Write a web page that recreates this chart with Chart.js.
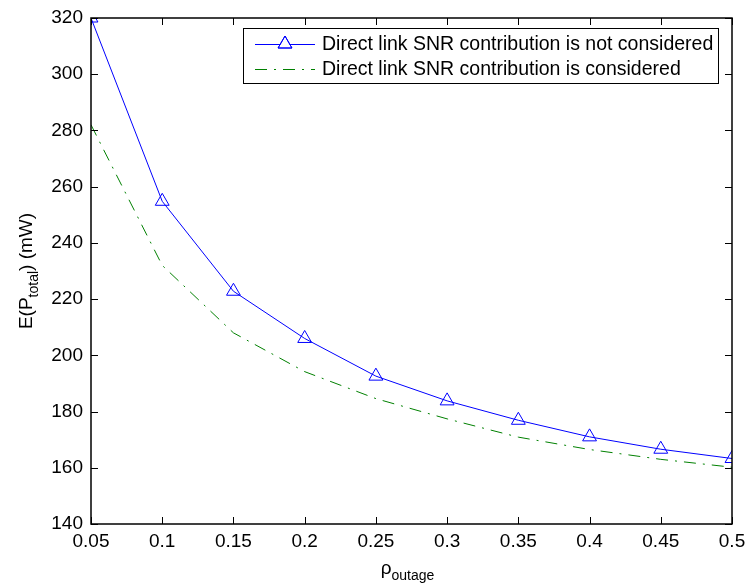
<!DOCTYPE html>
<html>
<head>
<meta charset="utf-8">
<script src="https://cdn.jsdelivr.net/npm/chart.js@4.4.1/dist/chart.umd.min.js"></script>
<style>
  html, body { margin: 0; padding: 0; background: #fff; }
  #wrap { width: 747px; height: 583px; }
</style>
</head>
<body>
<div id="wrap"><canvas id="powerChart" width="747" height="583"></canvas></div>
<script>
// values
const outageProb = [0.05, 0.1, 0.15, 0.2, 0.25, 0.3, 0.35, 0.4, 0.45, 0.5];
const powerNoDirect = [320, 254.8, 222.8, 206, 192.6, 183.8, 176.9, 171, 166.6, 163.3];
const powerDirect = [282, 232, 208, 194.2, 184.6, 177.4, 170.9, 166.5, 163, 160.2];
const xTicks = [0.05, 0.1, 0.15, 0.2, 0.25, 0.3, 0.35, 0.4, 0.45, 0.5];
const yTicks = [140, 160, 180, 200, 220, 240, 260, 280, 300, 320];

const FONT = 'Arial, "Liberation Sans", sans-serif';

function toPoints(xs, ys) {
    return xs.map((x, i) => ({ x: x, y: ys[i] }));
}

// MATLAB-style box with inward ticks on all four sides
const boxPlugin = {
    id: 'matlabBox',
    afterDraw(chart) {
        const ctx = chart.ctx;
        const a = chart.chartArea;
        const xs = chart.scales.x, ys = chart.scales.y;
        const L = Math.round(a.left), R = Math.round(a.right);
        const T = Math.round(a.top), B = Math.round(a.bottom);
        const tick = 7;
        ctx.save();
        ctx.strokeStyle = '#000';
        ctx.lineWidth = 1.5;
        ctx.strokeRect(L, T, R - L, B - T);
        ctx.lineWidth = 1;
        ctx.beginPath();
        xTicks.forEach(v => {
            const px = Math.round(xs.getPixelForValue(v)) + 0.5;
            ctx.moveTo(px, B); ctx.lineTo(px, B - tick);
            ctx.moveTo(px, T); ctx.lineTo(px, T + tick);
        });
        yTicks.forEach(v => {
            const py = Math.round(ys.getPixelForValue(v)) + 0.5;
            ctx.moveTo(L, py); ctx.lineTo(L + tick, py);
            ctx.moveTo(R, py); ctx.lineTo(R - tick, py);
        });
        ctx.stroke();

        // axis titles with subscripts
        ctx.fillStyle = '#000';
        ctx.textBaseline = 'alphabetic';
        const big = '19px ' + FONT, small = '14px ' + FONT;

        // x title: rho_outage
        ctx.font = big;
        const w1 = ctx.measureText('\u03C1').width;
        ctx.font = small;
        const w2 = ctx.measureText('outage').width;
        let x0 = (L + R) / 2 - 4 - (w1 + w2) / 2;
        const by = 574;
        ctx.font = big;
        ctx.fillText('\u03C1', x0, by);
        ctx.font = small;
        ctx.fillText('outage', x0 + w1, by + 6);

        // y title: E(P_total) (mW)
        const parts = [['E(P', big, 0], ['total', small, 6], [') (mW)', big, 0]];
        let total = 0;
        parts.forEach(p => { ctx.font = p[1]; total += ctx.measureText(p[0]).width; });
        ctx.translate(32, (T + B) / 2);
        ctx.rotate(-Math.PI / 2);
        let cx = -total / 2;
        parts.forEach(p => {
            ctx.font = p[1];
            ctx.fillText(p[0], cx, p[2]);
            cx += ctx.measureText(p[0]).width;
        });
        ctx.restore();

        // legend
        drawLegend(chart);
    }
};

function drawLegend(chart) {
    const ctx = chart.ctx;
    const bx = 243, byTop = 28, bw = 475, bh = 55;
    ctx.save();
    ctx.fillStyle = '#fff';
    ctx.fillRect(bx, byTop, bw, bh);
    ctx.strokeStyle = '#000';
    ctx.lineWidth = 1;
    ctx.strokeRect(bx + 0.5, byTop + 0.5, bw, bh);
    const rows = [44, 69];
    chart.data.datasets.forEach((ds, i) => {
        const y = rows[i] + 0.5;
        ctx.strokeStyle = ds.borderColor;
        ctx.lineWidth = 1;
        ctx.setLineDash(ds.borderDash || []);
        ctx.beginPath();
        ctx.moveTo(255, y);
        ctx.lineTo(315, y);
        ctx.stroke();
        ctx.setLineDash([]);
        if (ds.pointRadius > 0) {
            Chart.helpers.drawPoint(ctx, {
                pointStyle: ds.pointStyle,
                radius: ds.pointRadius,
                borderWidth: 1
            }, 285, rows[i]);
            ctx.stroke();
        }
        ctx.fillStyle = '#000';
        ctx.font = '19.5px ' + FONT;
        ctx.textBaseline = 'middle';
        ctx.fillText(ds.label, 322, rows[i] + 1);
    });
    ctx.restore();
}

const config = {
    type: 'line',
    data: {
        datasets: [
            {
                label: 'Direct link SNR contribution is not considered',
                data: toPoints(outageProb, powerNoDirect),
                borderColor: '#0000ff',
                backgroundColor: 'rgba(0,0,0,0)',
                borderWidth: 1,
                pointStyle: 'triangle',
                pointRadius: 8,
                pointBorderWidth: 1,
                pointBorderColor: '#0000ff',
                pointBackgroundColor: 'rgba(0,0,0,0)',
                tension: 0
            },
            {
                label: 'Direct link SNR contribution is considered',
                data: toPoints(outageProb, powerDirect),
                borderColor: '#008000',
                backgroundColor: 'rgba(0,0,0,0)',
                borderWidth: 1,
                borderDash: [12, 7, 2, 7],
                pointRadius: 0,
                tension: 0
            }
        ]
    },
    options: {
        responsive: false,
        animation: false,
        layout: { padding: { left: 0, top: 18, right: 15, bottom: 0 } },
        plugins: {
            legend: { display: false },
            tooltip: { enabled: false }
        },
        scales: {
            x: {
                type: 'linear',
                min: 0.05,
                max: 0.5,
                grid: { display: false, drawTicks: false, tickLength: 0 },
                border: { display: false },
                afterBuildTicks: axis => { axis.ticks = xTicks.map(v => ({ value: v })); },
                afterFit: axis => {
                    axis.height = 59;
                    axis.paddingLeft = 0;
                    axis.paddingRight = 0;
                },
                ticks: {
                    color: '#000',
                    padding: 6,
                    maxRotation: 0,
                    font: { family: FONT, size: 19 },
                    callback: v => String(parseFloat(v.toFixed(2)))
                }
            },
            y: {
                min: 140,
                max: 320,
                grid: { display: false, drawTicks: false, tickLength: 0 },
                border: { display: false },
                afterBuildTicks: axis => { axis.ticks = yTicks.map(v => ({ value: v })); },
                afterFit: axis => {
                    axis.width = 91;
                    axis.paddingTop = 0;
                    axis.paddingBottom = 0;
                },
                ticks: {
                    color: '#000',
                    padding: 8,
                    font: { family: FONT, size: 19 }
                }
            }
        }
    },
    plugins: [boxPlugin]
};

const powerChart = new Chart(document.getElementById('powerChart').getContext('2d'), config);
</script>
</body>
</html>
